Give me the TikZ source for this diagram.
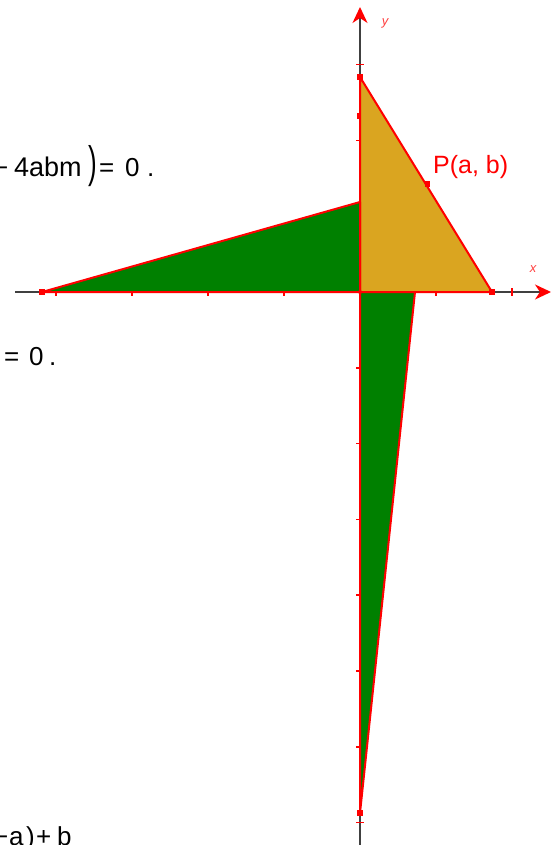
\documentclass[tikz,border=0pt]{standalone}
\usepackage{fontspec}
\usepackage{graphicx}
\setmainfont{Liberation Sans}
\usetikzlibrary{arrows.meta}
\definecolor{gold}{HTML}{DAA520}
\definecolor{grn}{HTML}{008000}
\definecolor{axgray}{HTML}{404040}
\begin{document}
\begin{tikzpicture}[x=1pt,y=-1pt,
  txt/.style={inner sep=0pt, anchor=base west, font=\fontsize{26}{30}\selectfont},
  axisline/.style={axgray, line width=2pt, -{Stealth[red, length=16pt, width=15pt, inset=5pt]}},
  tickmark/.style={red, line width=1.5pt},
  triangle/.style={draw=red, line width=2pt, line join=round},
  ptbox/.style={fill=red, inner sep=0pt, minimum size=6pt},
  axlabel/.style={red!75, inner sep=0pt, font=\fontsize{13}{14}\selectfont\itshape}]
\useasboundingbox (0,0) rectangle (558,845);
\clip (0,0) rectangle (558,845);
% axes
\coordinate (xs) at (15,292); \coordinate (xe) at (551,292);
\coordinate (ys) at (360,845); \coordinate (ye) at (360,7);
\draw[axisline] (xs) -- (xe);
\draw[axisline] (ys) -- (ye);
% ticks
\foreach \t in {56,132,208,284,436,512} \draw[tickmark] (\t,288) -- (\t,296);
\foreach \t in {64.6,140.4,216.2,367.8,443.6,519.4,595.2,671,746.8,822.6} \draw[tickmark] (356,\t) -- (364,\t);
% vertices
\coordinate (O) at (360,292);
\coordinate (A) at (360,77);
\coordinate (B) at (492,292);
\coordinate (C) at (42,292);
\coordinate (D) at (360,202);
\coordinate (E) at (415,292);
\coordinate (F) at (360,813);
% triangles
\filldraw[triangle, fill=gold] (A) -- (O) -- (B) -- cycle;
\filldraw[triangle, fill=grn] (C) -- (O) -- (D) -- cycle;
\filldraw[triangle, fill=grn] (O) -- (E) -- (F) -- cycle;
% points
\node[ptbox] (pA) at (A) {};
\node[ptbox] (pB) at (B) {};
\node[ptbox] (pC) at (C) {};
\node[ptbox] (pF) at (F) {};
\node[fill=red, inner sep=0pt, minimum width=4pt, minimum height=6pt] (pY) at (359,116) {};
\node[fill=red, inner sep=0pt, minimum size=5pt] (pP) at (427,184) {};
\node[fill=red, circle, inner sep=0pt, minimum size=4pt] (pO) at (O) {};
% labels
\node[red, txt, font=\fontsize{25}{30}\selectfont] (lP) at (433,174) {P(a, b)};
\node[axlabel] (ly) at (385,23) {y};
\node[axlabel] (lx) at (533,269) {x};
% formula texts
\node[txt] (m1) at (-7,177) {\textminus};
\node[txt, font=\fontsize{27}{30}\selectfont] (t1) at (14,177) {4abm};
\node[inner sep=0pt, font=\fontsize{26}{30}\selectfont] (p1) at (92.5,166.5) {\scalebox{1}[1.7]{)}};
\node[txt] (e1) at (99,177) {=};
\node[txt] (z1) at (125,177) {0};
\node[txt] (d1) at (147,177) {.};
\node[txt] (e2) at (4,365) {=};
\node[txt] (z2) at (29,365) {0};
\node[txt] (d2) at (49,365) {.};
\node[txt] (m3) at (-7,845) {\textminus};
\node[txt] (a3) at (9,845) {a};
\node[txt] (p3) at (26,845) {)};
\node[txt] (s3) at (36,845) {+};
\node[txt] (b3) at (57,845) {b};
\end{tikzpicture}
\end{document}
